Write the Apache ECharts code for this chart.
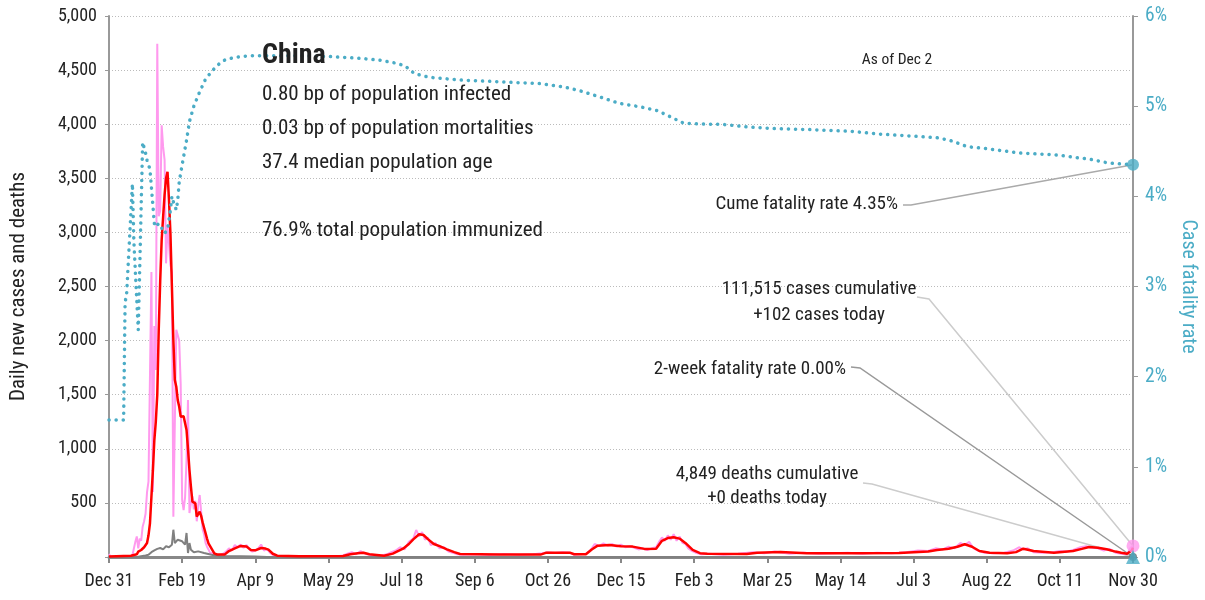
<!DOCTYPE html>
<html>
<head>
<meta charset="utf-8">
<script src="https://cdn.jsdelivr.net/npm/echarts@6/dist/echarts.min.js"></script>
<style>
  html, body { margin: 0; padding: 0; background: #fff; }
  #chart { width: 1205px; height: 600px; }
</style>
</head>
<body>
<div id="chart"></div>
<script>
// day 0 = Dec 31 (2019); x axis runs 700 days to Nov 30
const tickDays = 50

// daily new cases (pink)
const caseDays = [0, 1, 3, 6, 10, 14, 16, 17, 18, 19, 20, 21, 22, 23, 24, 25, 26, 27, 28, 29, 30, 31, 32, 33, 34, 35, 36, 37, 38, 39, 40, 41, 42, 43, 44, 45, 46, 47, 48, 49, 50, 51, 52, 53, 54, 55, 56, 57, 58, 59, 60, 61, 62, 63, 64, 65, 66, 67, 68, 69, 70,
  72, 74, 76, 78, 80, 82, 84, 86, 88, 90, 92, 94, 96, 98, 100, 102, 104, 106, 108, 110, 112, 114, 118, 125, 135, 145, 155, 160, 163, 166, 169, 172, 175, 178, 182, 186, 190, 193, 196, 199, 202, 205, 208, 210, 212, 214, 216, 218, 220, 223, 226, 229, 232, 235, 238, 242, 250, 260, 270, 280, 290, 296, 300, 305, 310, 315, 318, 322, 326, 329, 332, 335, 338, 341, 344, 347, 350, 353, 356, 359, 362, 365, 368, 371, 374, 376, 378, 380, 382, 384, 386, 388, 390, 392, 394, 396, 398, 401, 405, 410, 420, 430, 440, 448, 455, 465, 475, 485, 495, 505, 515, 525, 535, 545, 553, 560, 565, 570, 574, 578, 582, 585, 588, 591, 594, 598, 605, 612, 618, 622, 625, 628, 632, 638, 645, 650, 655, 660, 664, 668, 672, 676, 680, 684, 688, 692, 696, 698, 700]
const casesDaily = [27, 2, 5, 0, 0, 4, 17, 20, 140, 190, 80, 170, 150, 280, 330, 400, 600, 700, 700, 2634, 600, 2135, 1728, 4744, 3150, 3200, 3990, 3790, 3670, 2714, 3050, 2900, 2700, 2630, 372, 380, 2100, 2090, 2000, 1600, 527, 434, 550, 900, 1451, 406, 500, 560, 440, 520, 330, 480, 573, 420, 255, 210, 130, 95, 70, 40, 37,
  30, 15, 20, 30, 50, 80, 60, 110, 90, 115, 85, 110, 70, 50, 60, 80, 115, 60, 75, 40, 20, 10, 5, 8, 3, 6, 4, 15, 30, 45, 25, 55, 30, 20, 10, 15, 25, 45, 60, 90, 70, 140, 170, 250, 190, 230, 160, 180, 110, 130, 80, 90, 50, 40, 25, 20, 25, 18, 28, 20, 25, 35, 45, 38, 45, 40, 20, 25, 30, 60, 120, 100, 125, 105, 120, 95, 115, 90, 100, 85, 70, 80, 65, 80, 90, 140, 180, 150, 200, 160, 210, 150, 190, 130, 120, 80, 60, 40, 25, 30, 20, 30, 45, 35, 50, 30, 40, 30, 35, 40, 30, 40, 35, 45, 60, 55, 80, 70, 95, 80, 130, 110, 140, 80, 60, 40, 35, 40, 60, 90, 70, 80, 45, 40, 45, 55, 50, 70, 90, 100, 85, 80, 60, 75, 40, 30, 25, 80, 102]

// 7-day average of new cases (red)
const avgDays = [0, 5, 10, 15, 19, 20, 22, 24, 26, 27, 28, 29, 30, 31, 32, 33, 34, 35, 36, 37, 38, 39, 40, 41, 42, 43, 44, 45, 46, 47, 48, 49, 50, 51, 52, 53, 54, 55, 56, 57, 58, 59, 60, 61, 62, 63, 64, 65, 66, 67, 68, 70, 72, 74, 79, 82, 86, 90, 94, 97, 100, 104, 107, 109, 112, 115, 130, 160, 165, 170, 174, 178, 188, 194, 201, 205, 208, 212, 215, 218, 222, 226, 231, 236, 240, 267, 295, 299, 315, 318, 326, 330, 334, 342, 350, 358, 366, 374, 378, 382, 386, 390, 394, 399, 404, 409, 436, 443, 459, 477, 511, 540, 560, 566, 574, 580, 585, 590, 595, 602, 614, 620, 625, 632, 646, 659, 665, 670, 676, 682, 688, 692, 696, 699, 700]
const avgCases = [5, 8, 10, 12, 25, 49, 65, 90, 130, 200, 311, 557, 800, 1081, 1250, 1500, 2100, 2550, 2930, 3145, 3350, 3500, 3560, 3300, 2990, 2500, 2005, 1636, 1574, 1450, 1389, 1297, 1290, 1300, 1312, 1174, 1000, 804, 650, 511, 505, 496, 373, 373, 419, 380, 320, 270, 220, 170, 126, 80, 34, 22, 22, 55, 80, 102, 96, 65, 62, 83, 78, 68, 30, 12, 6, 9, 25, 35, 40, 25, 12, 31, 77, 120, 163, 210, 203, 165, 120, 100, 71, 45, 28, 22, 22, 40, 40, 25, 25, 70, 105, 111, 100, 96, 75, 77, 150, 175, 182, 170, 130, 65, 35, 30, 28, 40, 46, 34, 34, 38, 50, 65, 77, 95, 118, 95, 55, 40, 34, 45, 77, 55, 40, 55, 75, 92, 85, 71, 50, 40, 31, 60, 85]

// daily deaths (grey)
const deathDays = [0, 15, 20, 25, 27, 29, 31, 33, 35, 37, 39, 41, 43, 44, 45, 47, 50, 52, 53, 54, 55, 56, 58, 61, 65, 70, 76, 90, 100, 108, 200, 700]
const deathsDaily = [0, 0, 2, 15, 21, 45, 61, 75, 83, 70, 99, 90, 114, 252, 129, 160, 145, 114, 222, 37, 129, 68, 43, 52, 37, 21, 6, 8, 4, 1, 1, 0]

// cumulative case fatality rate, % (teal, right axis)
const cfrDays = [0, 10, 11, 12, 16, 17, 20, 21, 23, 25, 26, 28, 29, 30, 31, 32, 34, 36, 38, 40, 42, 43, 44, 46, 47, 48, 50, 53, 55, 58, 62, 66, 71, 76, 80, 90, 98, 110, 130, 151, 172, 185, 195, 202, 209, 219, 240, 267, 295, 312, 322, 336, 349, 364, 375, 384, 393, 408, 418, 436, 456, 479, 508, 527, 547, 566, 575, 587, 599, 623, 647, 671, 683, 700]
const cfrPct = [1.52, 1.52, 2.83, 2.9, 4.14, 3.5, 2.52, 3.2, 4.6, 4.48, 4.4, 4.3, 4.1, 3.9, 3.7, 3.66, 3.7, 3.65, 3.59, 3.63, 3.85, 4.0, 3.94, 3.85, 3.96, 4.16, 4.35, 4.62, 4.83, 5.0, 5.16, 5.3, 5.4, 5.48, 5.52, 5.55, 5.56, 5.56, 5.56, 5.55, 5.53, 5.51, 5.48, 5.45, 5.36, 5.32, 5.29, 5.27, 5.25, 5.21, 5.17, 5.1, 5.03, 4.99, 4.95, 4.88, 4.81, 4.8, 4.8, 4.77, 4.75, 4.74, 4.72, 4.69, 4.67, 4.65, 4.62, 4.55, 4.53, 4.48, 4.46, 4.41, 4.37, 4.35]

const lastDay = 700
const casesToday = 102
const deathsToday = 0
const cumeCfr = 4.35
const twoWeekCfr = 0

const months = ['Jan', 'Feb', 'Mar', 'Apr', 'May', 'Jun', 'Jul', 'Aug', 'Sep', 'Oct', 'Nov', 'Dec']
const dayLabel = d => {
    const t = new Date(Date.UTC(2019, 11, 31) + d * 86400000)
    return months[t.getUTCMonth()] + ' ' + t.getUTCDate()
}
const zip = (a, b) => a.map((x, i) => [x, b[i]])

const FONT = '"Roboto Condensed", "Liberation Sans Narrow", "DejaVu Sans Condensed", "Roboto", sans-serif'
const TEAL = '#4bacc6'
const INK = '#222'

var myChart = echarts.init(document.getElementById('chart'))

var option = {
    animation: false,
    textStyle: { fontFamily: FONT },
    grid: { left: 109, right: 72, top: 16, bottom: 43, outerBoundsMode: 'none' },
    xAxis: {
        type: 'value',
        min: 0,
        max: lastDay,
        interval: tickDays,
        axisLine: { lineStyle: { color: '#888', width: 3 } },
        axisTick: { length: 6, lineStyle: { color: '#888', width: 2 } },
        axisLabel: { formatter: dayLabel, color: INK, fontSize: 18, margin: 15, fontFamily: FONT },
        splitLine: { show: false }
    },
    yAxis: [
        {
            type: 'value',
            min: 0,
            max: 5000,
            interval: 500,
            name: 'Daily new cases and deaths',
            nameLocation: 'middle',
            nameRotate: 90,
            nameGap: 80,
            nameTextStyle: { color: INK, fontSize: 21, fontFamily: FONT },
            axisLine: { show: true, lineStyle: { color: '#999', width: 2 } },
            axisTick: { show: true, length: 4, lineStyle: { color: '#999' } },
            axisLabel: {
                color: INK, fontSize: 18, margin: 12, fontFamily: FONT,
                formatter: v => v === 0 ? '' : v.toLocaleString('en-US')
            },
            splitLine: { lineStyle: { color: '#bbb', type: [1, 2] } }
        },
        {
            type: 'value',
            min: 0,
            max: 6,
            interval: 1,
            position: 'right',
            name: 'Case fatality rate',
            nameLocation: 'middle',
            nameRotate: -90,
            nameGap: 45,
            nameTextStyle: { color: TEAL, fontSize: 20, fontFamily: FONT },
            axisLine: { show: true, lineStyle: { color: '#999', width: 2 } },
            axisTick: { show: true, length: 5, lineStyle: { color: '#999' } },
            axisLabel: { color: TEAL, fontSize: 19.5, margin: 12, fontFamily: FONT, formatter: '{value}%' },
            splitLine: { show: false }
        }
    ],
    series: [
        {
            name: 'New cases',
            type: 'line',
            data: zip(caseDays, casesDaily),
            showSymbol: false,
            lineStyle: { color: '#ff99ee', width: 2 },
            z: 2
        },
        {
            name: 'Deaths',
            type: 'line',
            data: zip(deathDays, deathsDaily),
            showSymbol: false,
            lineStyle: { color: '#808080', width: 2 },
            z: 3
        },
        {
            name: '7-day average',
            type: 'line',
            data: zip(avgDays, avgCases),
            showSymbol: false,
            lineStyle: { color: '#ff0000', width: 2.5 },
            z: 4
        },
        {
            name: 'Case fatality rate',
            type: 'line',
            yAxisIndex: 1,
            data: zip(cfrDays, cfrPct),
            showSymbol: false,
            lineStyle: { color: TEAL, width: 3.5, type: [0.1, 7], cap: 'round' },
            z: 5
        },
        {
            name: 'today cases',
            type: 'scatter',
            data: [[lastDay, casesToday]],
            symbolSize: 13,
            itemStyle: { color: '#ff99ee' },
            z: 6
        },
        {
            name: 'today deaths',
            type: 'scatter',
            data: [[lastDay, deathsToday]],
            symbolSize: 8,
            itemStyle: { color: '#666' },
            z: 6
        },
        {
            name: 'cume cfr',
            type: 'scatter',
            yAxisIndex: 1,
            data: [[lastDay, cumeCfr]],
            symbolSize: 12,
            itemStyle: { color: TEAL },
            z: 7
        },
        {
            name: '2-week cfr',
            type: 'scatter',
            yAxisIndex: 1,
            data: [[lastDay, twoWeekCfr]],
            symbol: 'triangle',
            symbolSize: 14,
            itemStyle: { color: TEAL },
            z: 7
        }
    ]
}
myChart.setOption(option)

// annotations with leader lines to the end points
const px = (yi, pt) => myChart.convertToPixel({ xAxisIndex: 0, yAxisIndex: yi }, pt)
const pCfr = px(1, [lastDay, cumeCfr])
const pCases = px(0, [lastDay, casesToday])
const pTwo = px(1, [lastDay, twoWeekCfr])
const pDeaths = px(0, [lastDay, deathsToday])

const txt = (text, x, y, size, align, weight) => ({
    type: 'text',
    x: x, y: y,
    z: 10,
    style: {
        text: text,
        font: (weight || 'normal') + ' ' + size + 'px ' + FONT,
        fill: INK,
        align: align, textAlign: align,
        verticalAlign: 'middle', textVerticalAlign: 'middle'
    }
})
const leader = (pts, color) => ({
    type: 'polyline',
    z: 1,
    shape: { points: pts },
    style: { stroke: color, lineWidth: 1.5, fill: null }
})

myChart.setOption({
    graphic: [
        txt('China', 262, 56, 28, 'left', 'bold'),
        txt('0.80 bp of population infected', 262, 95, 21, 'left'),
        txt('0.03 bp of population mortalities', 262, 129, 21, 'left'),
        txt('37.4 median population age', 262, 163, 21, 'left'),
        txt('76.9% total population immunized', 262, 231, 21, 'left'),
        txt('As of Dec 2', 897, 60, 15.5, 'center'),
        txt('Cume fatality rate 4.35%', 898, 204, 19, 'right'),
        txt('111,515 cases cumulative', 819, 289, 19, 'center'),
        txt('+102 cases today', 819, 315, 19, 'center'),
        txt('2-week fatality rate 0.00%', 846, 369, 19, 'right'),
        txt('4,849 deaths cumulative', 767, 474, 19, 'center'),
        txt('+0 deaths today', 767, 498, 19, 'center'),
        leader([[903, 205], [911, 205], pCfr], '#aaa'),
        leader([[917, 297], [929, 299], pCases], '#ccc'),
        leader([[851, 367], [860, 368], pTwo], '#999'),
        leader([[863, 483], [872, 484], pDeaths], '#ccc')
    ]
})
</script>
</body>
</html>
